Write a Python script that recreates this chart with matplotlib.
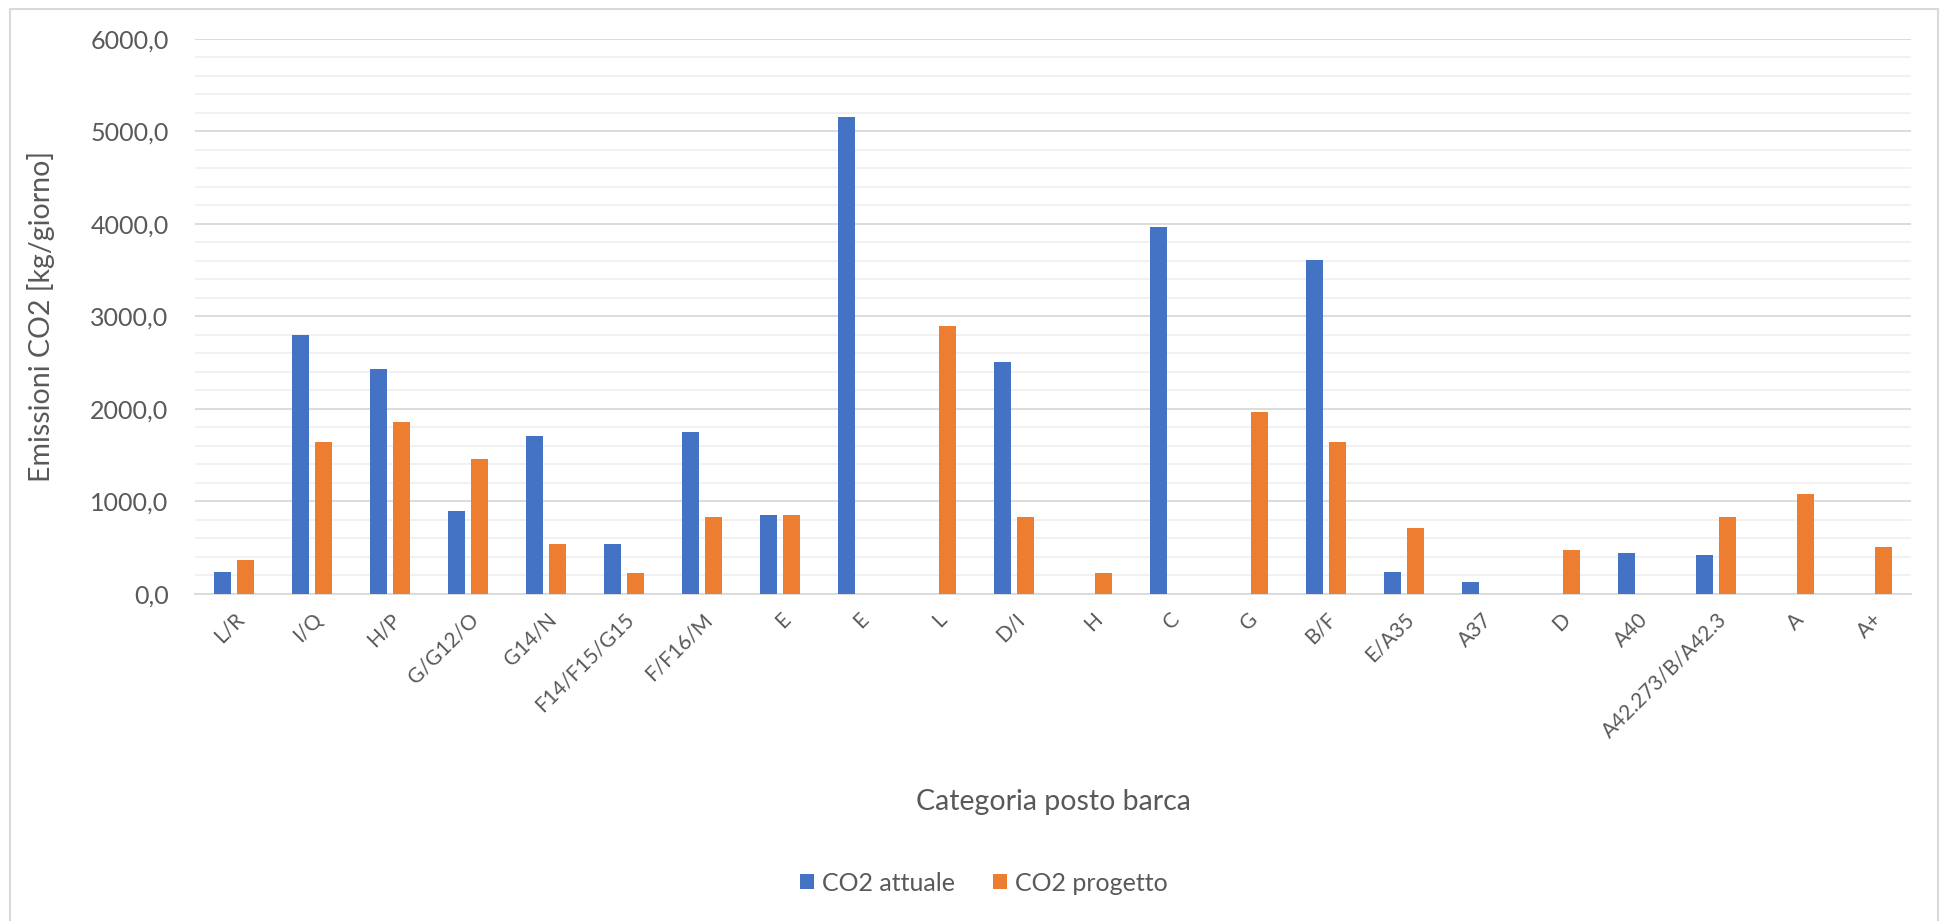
import matplotlib
matplotlib.use("Agg")
import matplotlib.pyplot as plt
from matplotlib.ticker import MultipleLocator, FuncFormatter
from matplotlib.patches import Rectangle
import numpy as np

categories = ["L/R", "I/Q", "H/P", "G/G12/O", "G14/N", "F14/F15/G15", "F/F16/M",
              "E", "E", "L", "D/I", "H", "C", "G", "B/F", "E/A35", "A37", "D",
              "A40", "A42.273/B/A42.3", "A", "A+"]
co2_attuale = [242, 2794, 2433, 893, 1711, 539, 1749, 852, 5153, 0, 2504, 0,
               3966, 0, 3605, 234, 134, 0, 439, 420, 0, 0]
co2_progetto = [372, 1644, 1860, 1462, 539, 223, 837, 852, 0, 2898, 830, 223,
                0, 1968, 1641, 714, 0, 472, 0, 837, 1083, 513]
series_names = ["CO2 attuale", "CO2 progetto"]

BLUE = "#4472C4"
ORANGE = "#ED7D31"
TEXT = "#595959"

plt.rcParams["font.family"] = ["Lato", "DejaVu Sans"]

W, H = 1950, 921
fig = plt.figure(figsize=(W / 100, H / 100), dpi=100)
fig.patch.set_facecolor("white")

# chart area frame
fig.patches.append(Rectangle((10 / W, -0.05), (1938 - 10) / W, 1 - 9 / H + 0.05,
                             transform=fig.transFigure, fill=False,
                             edgecolor="#D9D9D9", linewidth=1.5))

ax = fig.add_axes([195 / W, (H - 594) / H, (1911 - 195) / W, (594 - 38.6) / H])

x = np.arange(len(categories))
w = 0.22
off = 0.145
ax.bar(x - off, co2_attuale, width=w, color=BLUE, label=series_names[0], zorder=3)
ax.bar(x + off, co2_progetto, width=w, color=ORANGE, label=series_names[1], zorder=3)

ax.set_xlim(-0.5, len(categories) - 0.5)
ax.set_ylim(0, 6000)
ax.yaxis.set_major_locator(MultipleLocator(1000))
ax.yaxis.set_minor_locator(MultipleLocator(200))
ax.yaxis.set_major_formatter(FuncFormatter(lambda v, p: f"{v:.1f}".replace(".", ",")))
ax.grid(axis="y", which="major", color="#D9D9D9", linewidth=1.3, zorder=0)
ax.grid(axis="y", which="minor", color="#F0F0F0", linewidth=1.3, zorder=0)

for s in ["top", "right", "left"]:
    ax.spines[s].set_visible(False)
ax.spines["bottom"].set_color("#D9D9D9")
ax.spines["bottom"].set_linewidth(1.3)

ax.tick_params(axis="y", which="both", length=0, labelsize=18, labelcolor=TEXT, pad=19)
ax.tick_params(axis="x", length=0, labelsize=15, labelcolor=TEXT, pad=11)
ax.set_xticks(x)
ax.set_xticklabels(categories, rotation=45, ha="right", rotation_mode="anchor")

fig.text(41 / W, 1 - 316 / H, "Emissioni CO2 [kg/giorno]", rotation=90,
         fontsize=20.5, color=TEXT, ha="center", va="center")
fig.text((195 + 1911) / 2 / W, 1 - 802 / H, "Categoria posto barca",
         fontsize=20.5, color=TEXT, ha="center", va="center")

leg = fig.legend(loc="center", bbox_to_anchor=(984 / W, 1 - 883 / H), ncol=2,
                 frameon=False, fontsize=18, handlelength=0.55, handleheight=0.55,
                 columnspacing=1.5, handletextpad=0.35)
for t in leg.get_texts():
    t.set_color(TEXT)

fig.savefig("out.png", dpi=100, facecolor="white")
